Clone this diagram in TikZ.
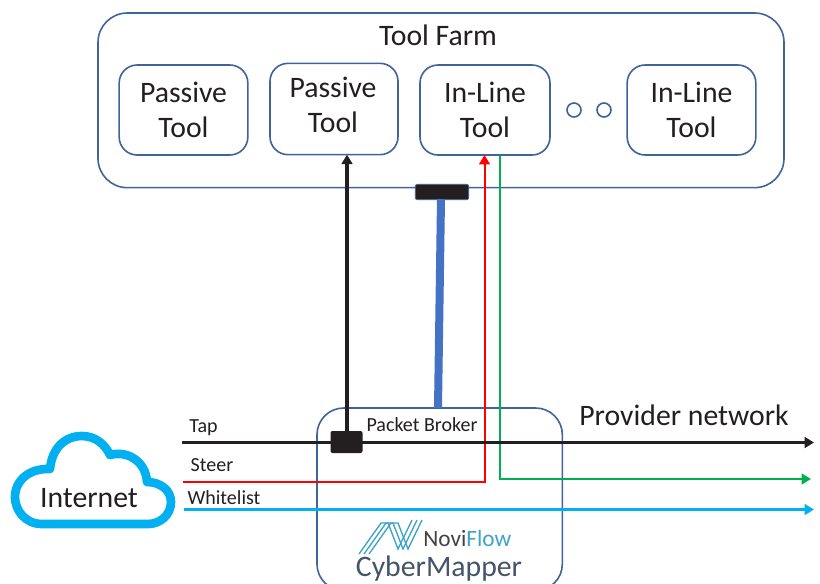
\documentclass[tikz,border=0pt]{standalone}
\usepackage{fontspec}
\setmainfont{Carlito}
\usetikzlibrary{arrows.meta}
\definecolor{boxblue}{HTML}{3F639B}
\definecolor{txt}{HTML}{231F20}
\definecolor{cyanline}{HTML}{00B0F0}
\definecolor{greenline}{HTML}{00B050}
\definecolor{linkblue}{HTML}{4472C4}
\definecolor{slate}{HTML}{44546A}
\definecolor{logo}{HTML}{3FA3C8}
\tikzset{
  rbox/.style={draw=boxblue,line width=1.2pt,rounded corners=13.5pt,fill=white,inner sep=0pt,outer sep=0pt},
  toolbox/.style={rbox,align=center,text=txt,font=\fontsize{22.3}{26}\selectfont},
  dotc/.style={circle,draw=boxblue,line width=1.2pt,minimum size=10.5pt,inner sep=0pt},
  tapbox/.style={fill=txt,rounded corners=1.5pt,inner sep=0pt,outer sep=0pt},
  lab/.style={text=txt,font=\fontsize{15}{17}\selectfont,inner sep=0pt},
  big/.style={text=txt,font=\fontsize{22.3}{26}\selectfont,inner sep=0pt},
  arr/.style={-{Triangle[length=7pt,width=8pt]}},
  strand/.style={draw=logo,line width=1pt},
}
\begin{document}
\begin{tikzpicture}[x=0.75pt,y=-0.75pt]
\useasboundingbox (0,0) rectangle (820,583);
\clip (0,0) rectangle (820,583);
% tool farm
\node[rbox,minimum width=514.5pt,minimum height=131pt,rounded corners=22pt,anchor=north west] (farm) at (98,13) {};
\node[big] (farmlab) at (438,35) {Tool Farm};
\node[toolbox,minimum width=96.5pt,minimum height=67.5pt] (p1) at (183.5,110) {Passive\\Tool};
\node[toolbox,minimum width=96pt,minimum height=68.5pt] (p2) at (334,109) {};
\node[big,align=center] (p2lab) at (333,105) {Passive\\Tool};
\node[toolbox,minimum width=97.5pt,minimum height=67.5pt] (i1) at (485,110) {In-Line\\Tool};
\node[toolbox,minimum width=96.5pt,minimum height=67.5pt] (i2) at (691.5,110) {In-Line\\Tool};
\node[dotc] (d1) at (574,110) {};
\node[dotc] (d2) at (604,110) {};
% broker
\node[rbox,minimum width=184pt,minimum height=137pt,rounded corners=20pt,anchor=north west] (broker) at (317,408) {};
\node[lab] (pb) at (422,424.5) {Packet Broker};
% thick link
\node[tapbox,draw=boxblue,line width=0.6pt,minimum width=40pt,minimum height=11.5pt] (bar) at (442,192) {};
\coordinate (barb) at (441,199);
\coordinate (brokt) at (438,408);
\draw[linkblue,line width=6pt] (barb) -- (brokt);
% lines
\coordinate (tapS) at (182,442.5);
\coordinate (tapE) at (814,442.5);
\coordinate (stS) at (183,481.5);
\coordinate (stC) at (484.5,481.5);
\coordinate (wlS) at (184,509.5);
\coordinate (wlE) at (814,509.5);
\coordinate (grC) at (500,479);
\coordinate (grE) at (811,479);
\draw[red,line width=1.5pt,arr] (stS) -- (stC) -- (i1.south -| stC);
\draw[greenline,line width=1.5pt,arr] (grC |- i1.south) -- (grC) -- (grE);
\draw[cyanline,line width=2.4pt,arr] (wlS) -- (wlE);
\draw[txt,line width=2.5pt,arr] (tapS) -- (tapE);
\node[tapbox,minimum width=24pt,minimum height=16.5pt] (tb) at (346.5,442) {};
\draw[txt,line width=2.3pt,arr] (tb.north -| 347,0) -- (p2.south -| 347,0);
% labels
\node[lab] (tap) at (203.5,427.5) {Tap};
\node[lab] (steer) at (212,465.5) {Steer};
\node[lab] (wl) at (224,498) {Whitelist};
\node[big] (prov) at (684,415) {Provider network};
% cloud
\draw[cyanline,line width=6.5pt,fill=white,line join=round]
  (42,524) .. controls (25,524) and (15,510) .. (15,497)
  .. controls (15,480) and (30,468) .. (50,469)
  .. controls (52,448) and (65,436) .. (82,436)
  .. controls (95,436) and (105,444) .. (110,455)
  .. controls (128,450) and (146,462) .. (147,482)
  .. controls (160,482) and (171,490) .. (171,502)
  .. controls (171,515) and (160,524) .. (148,524) -- cycle;
\node[big] (inet) at (89,498.5) {Internet};
% logo
\foreach \d in {0,5,10}{
  \draw[strand] (359+\d,554) -- (381+\d,523) -- (388+\d,523) -- (398+\d,549) -- (412+\d,520);
}
\node[font=\fontsize{17.5}{19}\selectfont,inner sep=0pt,anchor=west] (nf) at (423,538) {\textcolor{txt!85}{Novi}\textcolor{logo}{Flow}};
\node[text=slate,font=\fontsize{22.3}{26}\selectfont,inner sep=0pt] (cm) at (439,568.5) {CyberMapper};
\end{tikzpicture}
\end{document}
